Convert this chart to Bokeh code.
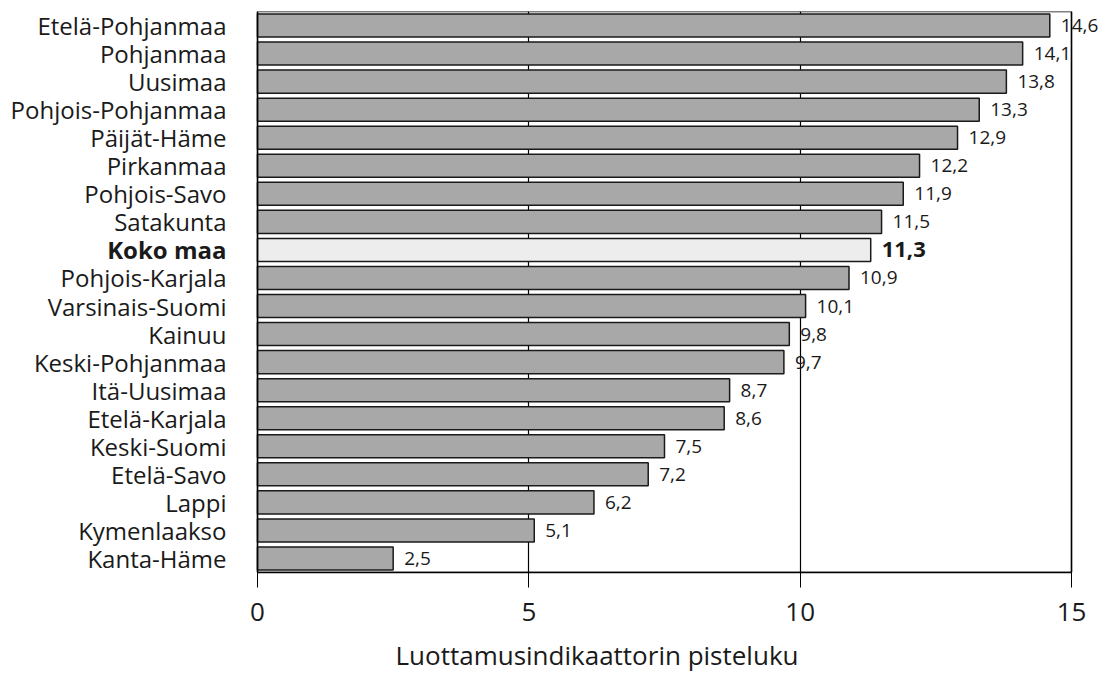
from bokeh.plotting import figure
from bokeh.models import ColumnDataSource, FactorRange, Range1d, LabelSet, FixedTicker
from bokeh.core.properties import value
from bokeh.embed import file_html
from bokeh.resources import INLINE

regions = ["Etelä-Pohjanmaa", "Pohjanmaa", "Uusimaa", "Pohjois-Pohjanmaa", "Päijät-Häme",
           "Pirkanmaa", "Pohjois-Savo", "Satakunta", "Koko maa", "Pohjois-Karjala",
           "Varsinais-Suomi", "Kainuu", "Keski-Pohjanmaa", "Itä-Uusimaa", "Etelä-Karjala",
           "Keski-Suomi", "Etelä-Savo", "Lappi", "Kymenlaakso", "Kanta-Häme"]
scores = [14.6, 14.1, 13.8, 13.3, 12.9, 12.2, 11.9, 11.5, 11.3, 10.9,
          10.1, 9.8, 9.7, 8.7, 8.6, 7.5, 7.2, 6.2, 5.1, 2.5]
highlight = "Koko maa"
x_ticks = [0, 5, 10, 15]
x_title = "Luottamusindikaattorin pisteluku"

FONT = "Open Sans"
TXT = "#1a1a1a"

W, H = 1109, 686
BOX_L, BOX_R = 257, 1071        # pixel edges of the value box (0 .. 15)
TOP, BOTTOM = 11, 114           # borders above / below the plot box

src = ColumnDataSource(dict(
    region=regions,
    score=scores,
    label=[f"{v:.1f}".replace(".", ",") for v in scores],
    fill=["#ededed" if r == highlight else "#a8a8a8" for r in regions],
    style=["bold" if r == highlight else "normal" for r in regions],
    vsize=["22px" if r == highlight else "19px" for r in regions],
))

# the frame spans the full width so that the category labels can live inside it;
# the x range is stretched so that 0..15 lands on the box edges
x0, x1 = x_ticks[0], x_ticks[-1]
ppu = (BOX_R - BOX_L) / (x1 - x0)
factors = regions[::-1]
p = figure(width=W, height=H,
           y_range=FactorRange(factors=factors, range_padding=0),
           x_range=Range1d(x0 - BOX_L / ppu, x1 + (W - BOX_R) / ppu),
           output_backend="svg", toolbar_location=None,
           title=x_title, title_location="below",
           min_border_left=0, min_border_right=0,
           min_border_top=TOP, min_border_bottom=BOTTOM)

p.background_fill_color = "white"
p.border_fill_color = "white"
p.outline_line_color = None

p.xgrid.grid_line_color = "black"
p.xgrid.grid_line_width = 1.2
p.ygrid.grid_line_color = None

p.hbar(y="region", right="score", left=0, height=0.82, source=src,
       fill_color="fill", line_color="#1a1a1a", line_width=1.5)

# plot box
p.quad(left=[x0], right=[x1], bottom=[0], top=[len(factors)],
       fill_color=None, line_color="black", line_width=1.5)

# value labels
p.add_layout(LabelSet(x="score", y="region", text="label", source=src,
                      x_offset=11, text_align="left", text_baseline="middle",
                      text_font=value(FONT), text_font_size="vsize",
                      text_font_style="style", text_color=TXT))
# category labels
p.add_layout(LabelSet(x=x0, y="region", text="region", source=src,
                      x_offset=-31, text_align="right", text_baseline="middle",
                      text_font=value(FONT), text_font_size="24px",
                      text_font_style="style", text_color=TXT))

p.yaxis.visible = False

p.xaxis.bounds = (x0, x1)
p.xaxis.ticker = FixedTicker(ticks=x_ticks)
p.xaxis.minor_tick_line_color = None
p.xaxis.major_tick_in = 0
p.xaxis.major_tick_out = 15
p.xaxis.major_tick_line_color = "black"
p.xaxis.axis_line_color = "black"
p.xaxis.axis_line_width = 1.5
p.xaxis.major_label_standoff = 15
p.xaxis.major_label_text_font = FONT
p.xaxis.major_label_text_font_size = "26px"
p.xaxis.major_label_text_color = TXT

# axis title, offset to sit where the reference centres it
p.title.text_font = FONT
p.title.text_font_size = "26px"
p.title.text_font_style = "normal"
p.title.text_color = TXT
p.title.align = "left"
p.title.offset = 395
p.title.standoff = 22

open("out.html", "w").write(file_html(p, INLINE))
